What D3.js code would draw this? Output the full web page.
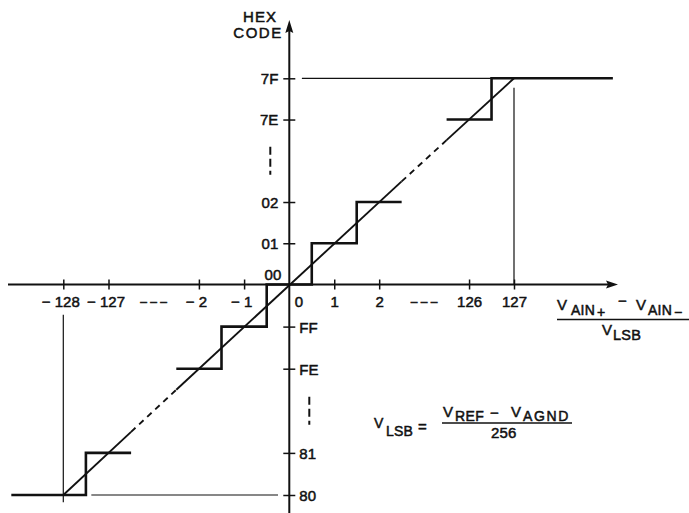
<!DOCTYPE html>
<html><head><meta charset="utf-8">
<script src="https://cdn.jsdelivr.net/npm/d3@7"></script>
<style>
html,body{margin:0;padding:0;background:#fff;}
svg{display:block;}
text{font-family:"Liberation Sans",Arial,Helvetica,sans-serif;fill:#111;stroke:#111;stroke-width:0.5px;}
</style>
</head><body>
<svg id="chart" width="689" height="513"></svg>
<script>
// ---------------- data ----------------
// input axis: (VAIN+ - VAIN-)/VLSB ; ticks shown on a broken axis
const inputTicks = [-128, -127, -2, -1, 0, 1, 2, 126, 127];
const inputTickLabels = ["−128", "−127", "−2", "−1", "0", "1", "2", "126", "127"];
// output code axis (signed value of the hex code)
const codeTicks = [-128, -127, -2, -1, 1, 2, 126, 127];
const codeTickLabels = ["80", "81", "FE", "FF", "01", "02", "7E", "7F"];
const originCodeLabel = "00";
// staircase transfer function: runs of consecutive output codes
const stairRuns = [
  [-128, -127],
  [-2, -1, 0, 1, 2],
  [126, 127]
];
const stairLeftEnd = -129.15;   // input where the 80 step is cut off on the left
const stairRightEnd = 129.2;    // input where the 7F step is cut off on the right
// ideal line (code = input), solid where drawn, dashed across the axis breaks
const idealSolid = [[-128, -126.5], [-2.5, 2.5], [125.5, 127]];
const idealDashed = [[-126.5, -2.5], [2.5, 125.5]];
// thin guide lines (input, code)
const guides = [
  { x1: 0.28, y1: 127, x2: 126.5, y2: 127 },
  { x1: 127, y1: 126.77, x2: 127, y2: 0 },
  { x1: -127.38, y1: -128, x2: -0.25, y2: -128 },
  { x1: -128, y1: -0.72, x2: -128, y2: -128.17 }
];
// axis break: input values -> display units
const breakIn = [-128, -126.5, -2.5, 0, 2.5, 125.5, 127];
const breakOut = [-5, -3.5, -2.5, 0, 2.5, 3.5, 5];

// ---------------- scales ----------------
const pxX = d3.scaleLinear().domain([-5, 0, 5]).range([63.3, 289.3, 514]);
const pxY = d3.scaleLinear().domain([-5, 0, 5]).range([495, 284.5, 78.3]);
const x = d3.scaleLinear().domain(breakIn).range(breakOut.map(pxX));
const y = d3.scaleLinear().domain(breakIn).range(breakOut.map(pxY));

const svg = d3.select("#chart");
const g = svg.append("g");

// ---------------- guides ----------------
g.selectAll("line.guide").data(guides).enter().append("line")
  .attr("class", "guide")
  .attr("x1", d => x(d.x1)).attr("y1", d => y(d.y1))
  .attr("x2", d => x(d.x2)).attr("y2", d => y(d.y2))
  .attr("stroke", "#111").attr("stroke-width", 1.2);

// ---------------- axes ----------------
const x0 = x(0), y0 = y(0);
// x axis line + arrow
g.append("line").attr("x1", 8).attr("x2", 612).attr("y1", y0).attr("y2", y0)
  .attr("stroke", "#111").attr("stroke-width", 2);
g.append("path").attr("d", `M618,${y0} L606,${y0 - 4} L608,${y0} L606,${y0 + 4} Z`).attr("fill", "#111");
// y axis line + arrow
g.append("line").attr("x1", x0).attr("x2", x0).attr("y1", 30).attr("y2", 513)
  .attr("stroke", "#111").attr("stroke-width", 2);
g.append("path").attr("d", `M${x0},20 L${x0 - 4},33 L${x0},31 L${x0 + 4},33 Z`).attr("fill", "#111");

// x ticks via d3 axis
const xAxis = d3.axisBottom(x).tickValues(inputTicks)
  .tickFormat((d, i) => inputTickLabels[i].replace("−", "− ")).tickSize(0).tickPadding(0);
const xg = g.append("g").attr("transform", `translate(0,${y0})`).call(xAxis);
xg.select(".domain").remove();
xg.selectAll(".tick line").attr("y1", -5).attr("y2", 5).attr("stroke", "#111").attr("stroke-width", 1.5);
xg.selectAll(".tick text").attr("y", 22.5).attr("dy", null)
  .attr("font-size", 15).attr("font-family", null)
  .attr("dx", d => d === 0 ? 9 : (d < 0 ? -3 : 0));
xg.selectAll(".tick").filter(d => d === 0).select("line").remove();

// break markers on x axis
const xBreaks = [(x(-127) + x(-2)) / 2, (x(2) + x(126)) / 2];
g.selectAll("text.xbreak").data(xBreaks).enter().append("text")
  .attr("class", "xbreak").attr("x", d => d).attr("y", y0 + 21)
  .attr("text-anchor", "middle").attr("font-size", 12).text("– – –");

// y ticks via d3 axis
const yAxis = d3.axisLeft(y).tickValues(codeTicks)
  .tickFormat((d, i) => codeTickLabels[i]).tickSize(0).tickPadding(0);
const yg = g.append("g").attr("transform", `translate(${x0},0)`).call(yAxis);
yg.select(".domain").remove();
yg.selectAll(".tick line").attr("x1", -6).attr("x2", 6).attr("stroke", "#111").attr("stroke-width", 1.5);
yg.selectAll(".tick text").attr("font-size", 15).attr("font-family", null).attr("dy", "0.36em")
  .attr("x", d => d > 0 ? -11 : 10)
  .attr("text-anchor", d => d > 0 ? "end" : "start");
// origin label
g.append("text").attr("x", x0 - 8).attr("y", y0 - 5).attr("text-anchor", "end")
  .attr("font-size", 15).text(originCodeLabel);

// vertical break markers on y axis
const yBreaks = [
  { x: x0 - 19, y: (y(2) + y(126)) / 2 },
  { x: x0 + 20, y: (y(-2) + y(-127)) / 2 }
];
g.selectAll("line.ybreak").data(yBreaks).enter().append("line")
  .attr("class", "ybreak")
  .attr("x1", d => d.x).attr("x2", d => d.x)
  .attr("y1", d => d.y - 14).attr("y2", d => d.y + 14)
  .attr("stroke", "#111").attr("stroke-width", 2).attr("stroke-dasharray", "8,4");

// axis titles
g.append("text").attr("x", 260).attr("y", 22).attr("text-anchor", "middle")
  .attr("font-size", 15).attr("letter-spacing", 1).text("HEX");
g.append("text").attr("x", 258).attr("y", 38).attr("text-anchor", "middle")
  .attr("font-size", 15).attr("letter-spacing", 1.5).text("CODE");

// ---------------- staircase ----------------
const stepLine = d3.line().x(d => x(d[0])).y(d => y(d[1])).curve(d3.curveStepAfter);
stairRuns.forEach(run => {
  const pts = run.map((c, i) => [i === 0 && c === -128 ? stairLeftEnd : c - 0.5, c]);
  const last = run[run.length - 1];
  pts.push([last === 127 ? stairRightEnd : last + 0.5, last]);
  g.append("path").attr("d", stepLine(pts)).attr("fill", "none")
    .attr("stroke", "#111").attr("stroke-width", 2.6).attr("stroke-linejoin", "miter");
});

// ---------------- ideal line ----------------
const diag = d3.line().x(d => x(d)).y(d => y(d));
idealSolid.forEach(s => {
  g.append("path").attr("d", diag(s)).attr("fill", "none")
    .attr("stroke", "#111").attr("stroke-width", 1.9);
});
idealDashed.forEach(s => {
  g.append("path").attr("d", diag(s)).attr("fill", "none")
    .attr("stroke", "#111").attr("stroke-width", 1.9).attr("stroke-dasharray", "6,5");
});

// ---------------- formulas ----------------
function put(txt, px, py, fs, ls) {
  const t = g.append("text").attr("x", px).attr("y", py).attr("font-size", fs).text(txt);
  if (ls) t.attr("letter-spacing", ls);
  return t;
}
// x-axis title: (VAIN+ − VAIN−) / VLSB
put("V", 557, 310, 15);
put("AIN", 571, 315, 14, 0.2);
put("+", 597, 317, 14);
put("−", 618, 306, 15);
put("V", 636, 310, 15);
put("AIN", 648, 315, 14, 0.2);
put("−", 674, 317, 14);
g.append("line").attr("x1", 557).attr("x2", 689).attr("y1", 319.5).attr("y2", 319.5)
  .attr("stroke", "#111").attr("stroke-width", 1.6);
put("V", 602, 335, 15);
put("LSB", 613, 340, 14.5, 0.2);

// VLSB = (VREF − VAGND)/256
put("V", 374, 428, 14);
put("LSB", 386, 436, 14, 0.2);
put("=", 418, 432, 15);
g.append("line").attr("x1", 442).attr("x2", 572).attr("y1", 423).attr("y2", 423)
  .attr("stroke", "#111").attr("stroke-width", 1.6);
put("V", 443, 417, 15);
put("REF", 455, 421, 14, 0.4);
put("−", 490, 418, 15);
put("V", 511, 417, 15);
put("AGND", 523, 421, 14, 1.6);
put("256", 491, 438, 15, 0.2);
</script>
</body></html>
